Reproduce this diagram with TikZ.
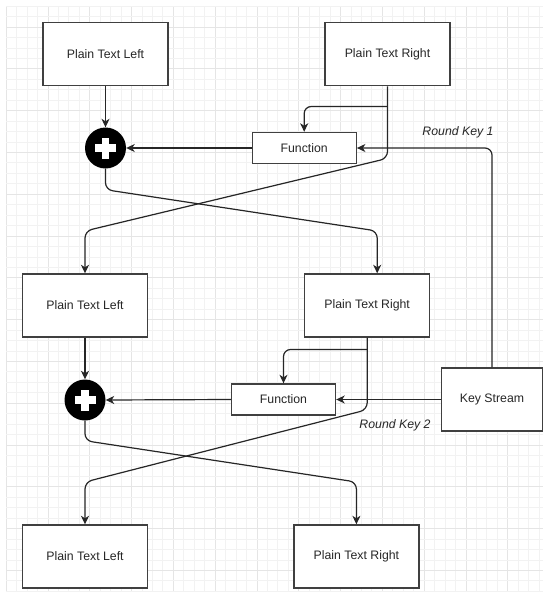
\documentclass[tikz,border=0pt]{standalone}
\usepackage{fontspec}
\setmainfont{Liberation Sans}
\usetikzlibrary{arrows.meta}
\begin{document}
\begin{tikzpicture}[x=1pt,y=-1pt,
  box/.style={draw=black!75, line width=1.4pt, fill=white, minimum width=125pt, minimum height=63pt, inner sep=0pt, text=black!85, font=\fontsize{12.3}{15}\selectfont},
  fbox/.style={box, minimum width=104pt, minimum height=31pt},
  xor/.style={circle, fill=black, minimum size=41pt, inner sep=0pt,
    path picture={
      \fill[white] ([xshift=-10.5pt,yshift=-3.7pt]path picture bounding box.center) rectangle ++(21pt,7.4pt);
      \fill[white] ([xshift=-3.7pt,yshift=-10.5pt]path picture bounding box.center) rectangle ++(7.4pt,21pt);
    }},
  conn/.style={line width=1.2pt, draw=black!85, rounded corners=7pt},
  arr/.style={conn, -{Stealth[length=8.5pt,width=8pt,inset=2.5pt]}},
  lbl/.style={font=\fontsize{12.3}{15}\selectfont\itshape, text=black!85},
  gridminor/.style={draw=black!5, line width=0.6pt},
  gridmajor/.style={draw=black!10, line width=0.6pt}
]
\useasboundingbox (0,0) rectangle (543,592);
\fill[white] (0,0) rectangle (543,592);
% background grid
\foreach \k in {0,...,51} {
  \pgfmathsetmacro{\gx}{6+10.45*\k}
  \draw[gridminor] (\gx,6) -- (\gx,592);
}
\foreach \k in {0,4,...,48} {
  \pgfmathsetmacro{\gx}{6+10.45*\k}
  \draw[gridmajor] (\gx,6) -- (\gx,592);
}
\foreach \k in {0,...,56} {
  \pgfmathsetmacro{\gy}{6+10.45*\k}
  \draw[gridminor] (6,\gy) -- (543,\gy);
}
\foreach \k in {2,6,...,54} {
  \pgfmathsetmacro{\gy}{6+10.45*\k}
  \draw[gridmajor] (6,\gy) -- (543,\gy);
}

% nodes
\node[box] (ptl1) at (105.5,54.2) {Plain Text Left};
\node[box] (ptr1) at (387.5,54.2) {Plain Text Right};
\node[xor] (x1) at (105.5,148) {};
\node[fbox] (f1) at (304.2,148) {Function};
\node[box] (ptl2) at (85,305.5) {Plain Text Left};
\node[box] (ptr2) at (367.2,305.5) {Plain Text Right};
\node[xor] (x2) at (85,400) {};
\node[fbox] (f2) at (283.5,399.5) {Function};
\node[box, minimum width=101pt] (ks) at (492,399.5) {Key Stream};
\node[box] (ptl3) at (85,556.5) {Plain Text Left};
\node[box] (ptr3) at (356.4,556.5) {Plain Text Right};
\node[lbl] (rk1) at (458,132) {Round Key 1};
\node[lbl] (rk2) at (395,425) {Round Key 2};

% stage 1
\draw[arr] (ptl1.south) -- (x1.north);
\draw[arr] (f1.west) -- (x1.east);
\coordinate (b1) at (ptr1.south |- 0,106.5);
\draw[arr] (b1) -| (f1.north);
\draw[arr] (ptr1.south) -- ++(0,72) -- (ptl2.north |- 0,231) -- (ptl2.north);
\coordinate (e1) at ([xshift=10pt]ptr2.north);
\draw[arr] (x1.south) -- ++(0,21) -- (e1 |- 0,231) -- (e1);
\draw[arr] (ks.north) -- (ks.north |- f1.east) -- (f1.east);

% stage 2
\draw[arr] (ptl2.south) -- (x2.north);
\draw[arr] (f2.west) -- (x2.east);
\coordinate (b2) at (ptr2.south |- 0,349.5);
\draw[arr] (b2) -| (f2.north);
\draw[arr] (ptr2.south) -- ++(0,72) -- (ptl3.north |- 0,482) -- (ptl3.north);
\draw[arr] (x2.south) -- ++(0,20) -- (ptr3.north |- 0,482) -- (ptr3.north);
\draw[arr] (ks.west) -- (f2.east);
\end{tikzpicture}
\end{document}
